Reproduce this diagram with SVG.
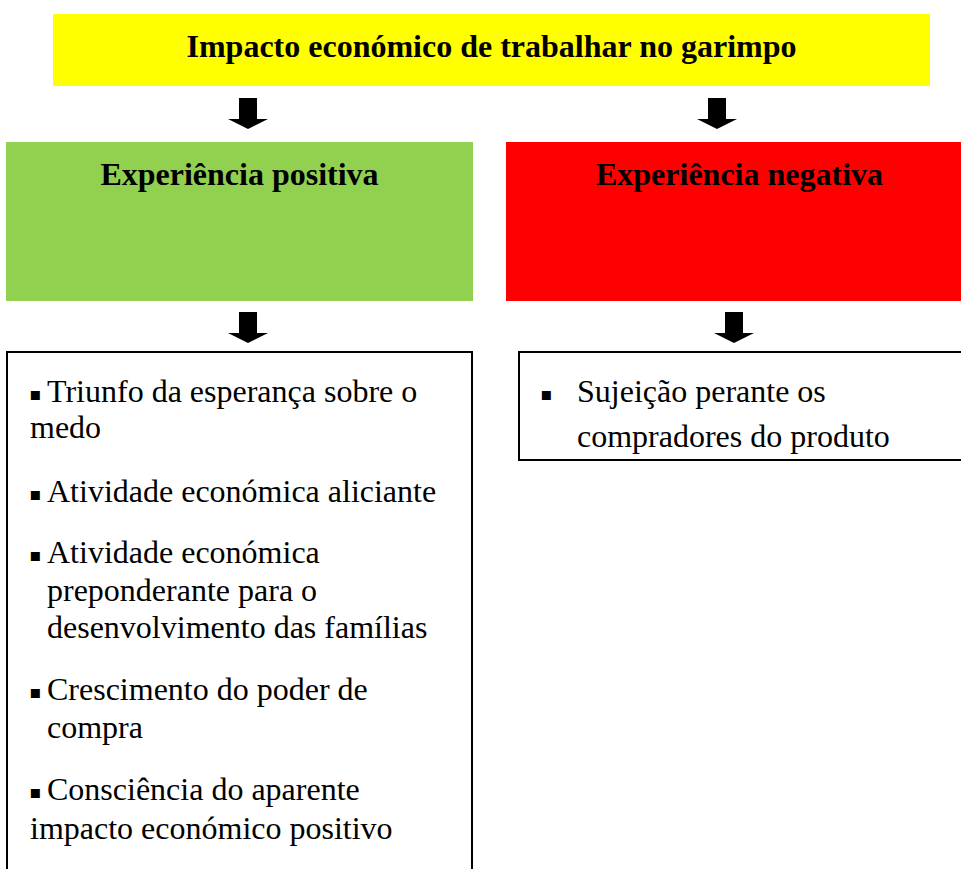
<svg xmlns="http://www.w3.org/2000/svg" width="961" height="869" viewBox="0 0 961 869">
<style>
.t{font-family:'Liberation Serif','Tinos','Times New Roman','Noto Serif','DejaVu Serif',serif;font-size:32px;fill:#000}
.h{font-weight:bold;text-anchor:middle}
.b{font-family:'DejaVu Sans',sans-serif;font-size:18px}
.box{fill:#fff;stroke:#000;stroke-width:2}
</style>
<defs>
<path id="arr" d="M-9,0 H9 V21 H20 L0,31 L-20,21 H-9 Z" fill="#000"/>
</defs>
<rect width="961" height="869" fill="#fff"/>
<g id="title">
<rect x="53" y="14" width="877" height="72" fill="#ffff00"/>
<text class="t h" x="491.5" y="57">Impacto económico de trabalhar no garimpo</text>
</g>
<g id="positive">
<rect x="6" y="142" width="467" height="159" fill="#92d050"/>
<text class="t h" x="239.5" y="185">Experiência positiva</text>
</g>
<g id="negative">
<rect x="506" y="142" width="467" height="159" fill="#ff0000"/>
<text class="t h" x="739.5" y="185">Experiência negativa</text>
</g>
<g id="positive-list">
<rect class="box" x="7" y="352" width="465" height="540"/>
<text class="t"><tspan class="b" x="29" y="400">▪</tspan><tspan x="47" y="402">Triunfo da esperança sobre o</tspan><tspan x="30" y="438">medo</tspan></text>
<text class="t"><tspan class="b" x="29" y="500">▪</tspan><tspan x="47" y="502">Atividade económica aliciante</tspan></text>
<text class="t"><tspan class="b" x="29" y="561">▪</tspan><tspan x="47" y="563">Atividade económica</tspan><tspan x="47" y="601">preponderante para o</tspan><tspan x="47" y="638">desenvolvimento das famílias</tspan></text>
<text class="t"><tspan class="b" x="29" y="698">▪</tspan><tspan x="47" y="700">Crescimento do poder de</tspan><tspan x="47" y="738">compra</tspan></text>
<text class="t"><tspan class="b" x="29" y="798">▪</tspan><tspan x="47" y="800">Consciência do aparente</tspan><tspan x="30" y="839">impacto económico positivo</tspan></text>
</g>
<g id="negative-list">
<rect class="box" x="519" y="352" width="460" height="108"/>
<text class="t"><tspan class="b" x="540" y="400">▪</tspan><tspan x="577" y="402">Sujeição perante os</tspan><tspan x="577" y="447">compradores do produto</tspan></text>
</g>
<g id="connectors">
<use href="#arr" x="248" y="98"/>
<use href="#arr" x="717" y="98"/>
<use href="#arr" x="248" y="312"/>
<use href="#arr" x="734" y="312"/>
</g>
</svg>
